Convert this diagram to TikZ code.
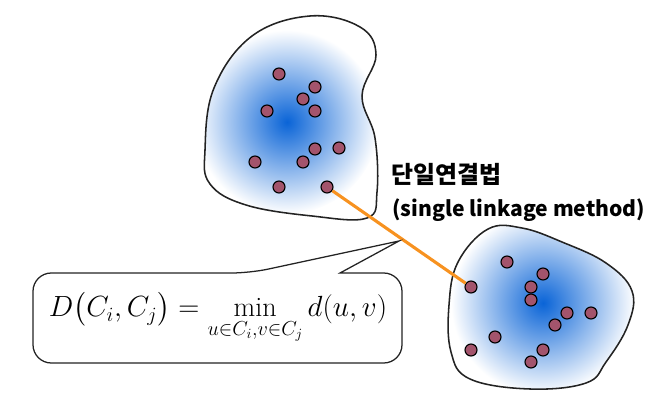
\documentclass[tikz,border=0pt]{standalone}
\usepackage{amsmath,amssymb}
\usepackage{fontspec}
\usepackage{tikz}
\usetikzlibrary{positioning}
\newfontfamily\kofont{Noto Sans CJK KR}
\definecolor{ptfill}{RGB}{163,84,108}
\definecolor{blobblue}{RGB}{10,100,215}
\definecolor{linkorange}{RGB}{247,146,32}
\definecolor{rim}{RGB}{35,35,35}

\begin{document}
\begin{tikzpicture}[
  x=0.025cm, y=-0.025cm,
  pt/.style={circle, draw=black, line width=0.8pt, fill=ptfill, inner sep=0pt, minimum size=0.3cm},
  blob/.style={draw=rim, line width=1.1pt, smooth cycle, tension=0.65},
  link/.style={draw=linkorange, line width=2.2pt},
  callout/.style={draw=rim, line width=0.9pt, fill=white},
  lbl/.style={font=\kofont\bfseries\fontsize{15}{18}\selectfont, inner sep=0pt}
]
\useasboundingbox (0,0) rectangle (661,418);

% cluster outlines
\def\blobA{(205,150) (214,88) (252,36) (310,16) (360,27) (376,55) (362,96) (375,138) (377,192) (367,218) (312,216) (246,205) (210,184)}
\def\blobB{(458,262) (488,229) (522,228) (562,242) (606,263) (632,291) (628,325) (606,362) (586,383) (530,389) (470,379) (451,352) (449,305)}

\begin{scope}
  \clip plot[smooth cycle, tension=0.65] coordinates {\blobA};
  \shade[inner color=blobblue, outer color=white] (287,122) circle (2.3cm);
\end{scope}
\begin{scope}
  \clip plot[smooth cycle, tension=0.65] coordinates {\blobB};
  \shade[inner color=blobblue, outer color=white] (543,303) circle (2.3cm);
\end{scope}
\draw[blob] plot coordinates {\blobA};
\draw[blob] plot coordinates {\blobB};

% points
\foreach \x/\y/\n in {279/74/1, 315/87/2, 303/99/3, 267/111/4, 315/111/5, 315/149/6, 339/148/7, 255/162/8, 303/162/9, 279/187/10, 327/187/11}
  \node[pt] (a\n) at (\x,\y) {};
\foreach \x/\y/\n in {507/262/1, 543/274/2, 531/287/3, 471/287/4, 531/300/5, 567/313/6, 591/313/7, 555/325/8, 495/337/9, 471/350/10, 543/350/11, 531/362/12}
  \node[pt] (b\n) at (\x,\y) {};

\draw[link] (a11) -- (b4);

% speech box
\coordinate (tip) at (399,241);
\draw[callout, rounded corners=13] (340,273) -- (402,273) -- (402,363) -- (33,363) -- (33,273) -- (250,273) [sharp corners] -- (tip) -- cycle;
\node (formula) at (218,318) {\fontsize{20}{24}\selectfont$D\bigl(C_i,C_j\bigr)=\min\limits_{u\in C_i,v\in C_j} d(u,v)$};

\node[lbl, anchor=west] (title) at (391,174) {\fontsize{17}{20}\selectfont 단일연결법};
\node[lbl, anchor=west] (subtitle) at (392,210) {(single linkage method)};

\end{tikzpicture}
\end{document}
